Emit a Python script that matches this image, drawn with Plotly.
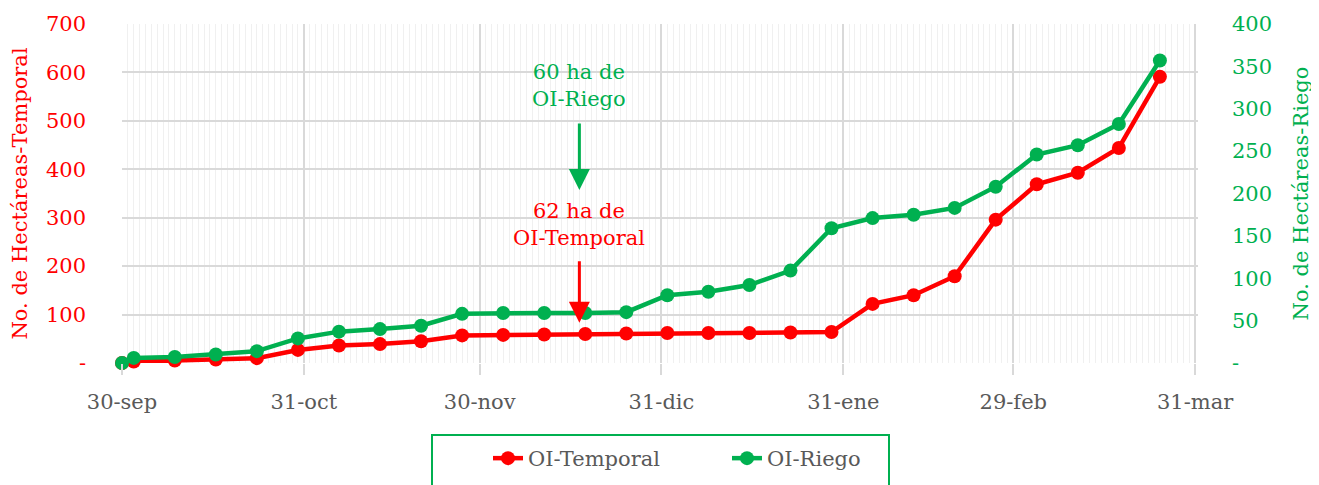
import plotly.graph_objects as go

# ---------------- data ----------------
dates = ["2023-09-30", "2023-10-02", "2023-10-09", "2023-10-16", "2023-10-23", "2023-10-30",
         "2023-11-06", "2023-11-13", "2023-11-20", "2023-11-27", "2023-12-04", "2023-12-11",
         "2023-12-18", "2023-12-25", "2024-01-01", "2024-01-08", "2024-01-15", "2024-01-22",
         "2024-01-29", "2024-02-05", "2024-02-12", "2024-02-19", "2024-02-26", "2024-03-04",
         "2024-03-11", "2024-03-18", "2024-03-25"]
oi_temporal = [0, 3, 5, 7, 10, 27, 36, 39, 45, 57, 58, 59, 60, 61, 62, 62, 62, 63, 64,
               122, 140, 179, 296, 369, 393, 444, 591]
oi_riego = [0, 6, 7, 10, 14, 29, 37, 40, 44, 58, 59, 59, 59, 60, 80, 84, 92, 109, 159,
            171, 175, 183, 208, 246, 257, 282, 357]

x_tickvals = ["2023-09-30", "2023-10-31", "2023-11-30", "2023-12-31", "2024-01-31", "2024-02-29", "2024-03-31"]
x_ticktext = ["30-sep", "31-oct", "30-nov", "31-dic", "31-ene", "29-feb", "31-mar"]
left_tickvals = [0, 100, 200, 300, 400, 500, 600, 700]
left_ticktext = ["-", "100", "200", "300", "400", "500", "600", "700"]
right_tickvals = [0, 50, 100, 150, 200, 250, 300, 350, 400]
right_ticktext = ["-", "50", "100", "150", "200", "250", "300", "350", "400"]

RED = "#FF0000"
GREEN = "#00B050"
GRAY = "#595959"
FONT = "DejaVu Serif"

# page has an 8px body margin: size the figure so it fits the 1319x485 window
OFF = 8
W, H = 1319 - OFF, 485 - OFF
PL, PR, PT, PB = 122, 1198, 24, 363          # plot area in window pixels
L, R, T, B = PL - OFF, W - (PR - OFF), PT - OFF, H - (PB - OFF)

fig = go.Figure()
fig.add_trace(go.Scatter(x=dates, y=oi_temporal, name="OI-Temporal", mode="lines+markers",
                         line=dict(color=RED, width=4.5), marker=dict(color=RED, size=14),
                         cliponaxis=False, yaxis="y"))
fig.add_trace(go.Scatter(x=dates, y=oi_riego, name="OI-Riego", mode="lines+markers",
                         line=dict(color=GREEN, width=4.5), marker=dict(color=GREEN, size=14),
                         cliponaxis=False, yaxis="y2"))

# annotations (text + arrows)
fig.add_annotation(x="2023-12-17", y=574, xref="x", yref="y", text="60 ha de<br>OI-Riego",
                   showarrow=False, font=dict(family=FONT, size=21, color=GREEN))
fig.add_annotation(x="2023-12-17", y=357, xref="x", yref="y", text="", showarrow=True,
                   ax=0, ay=-68, arrowcolor=GREEN, arrowwidth=3, arrowhead=2, arrowsize=1.4)
fig.add_annotation(x="2023-12-17", y=287, xref="x", yref="y", text="62 ha de<br>OI-Temporal",
                   showarrow=False, font=dict(family=FONT, size=21, color=RED))
fig.add_annotation(x="2023-12-17", y=83, xref="x", yref="y", text="", showarrow=True,
                   ax=0, ay=-63, arrowcolor=RED, arrowwidth=3, arrowhead=2, arrowsize=1.4)

plot_w = PR - PL
plot_h = PB - PT
def px_x(p):
    return (p - PL) / plot_w
def px_y(p):
    return (PB - p) / plot_h

# legend box
fig.add_shape(type="rect", xref="paper", yref="paper",
              x0=px_x(432), x1=px_x(889), y0=px_y(500), y1=px_y(435),
              line=dict(color=GREEN, width=2), fillcolor="rgba(0,0,0,0)", layer="above")

fig.update_layout(
    width=W, height=H,
    margin=dict(l=L, r=R, t=T, b=B, autoexpand=False),
    paper_bgcolor="white", plot_bgcolor="white",
    font=dict(family=FONT, size=21, color=GRAY),
    showlegend=True,
    legend=dict(orientation="h", x=px_x(488), xanchor="left", y=px_y(438), yanchor="top",
                font=dict(family=FONT, size=21, color=GRAY), bgcolor="rgba(0,0,0,0)",
                borderwidth=0, entrywidth=194, entrywidthmode="pixels"),
    xaxis=dict(
        type="date", range=["2023-09-30", "2024-03-31 12:00"], automargin=False,
        tickmode="array", tickvals=x_tickvals, ticktext=x_ticktext,
        showgrid=True, gridcolor="#D9D9D9", gridwidth=2,
        ticks="outside", ticklen=11, tickwidth=2, tickcolor="#D9D9D9",
        ticklabelstandoff=9,
        tickfont=dict(family=FONT, size=21, color=GRAY),
        showline=False, zeroline=False,
        minor=dict(tickmode="linear", tick0="2023-09-30", dtick=86400000,
                   showgrid=True, gridcolor="#F0F0F0", gridwidth=1, ticks=""),
    ),
    yaxis=dict(
        range=[0, 700], tickmode="array", tickvals=left_tickvals, ticktext=left_ticktext,
        automargin=False,
        showgrid=True, gridcolor="#D9D9D9", gridwidth=2, zeroline=False, showline=False,
        ticks="", ticklabelstandoff=35,
        tickfont=dict(family=FONT, size=21, color=RED),
        title=dict(text="No. de Hectáreas-Temporal", font=dict(family=FONT, size=21, color=RED), standoff=14),
    ),
    yaxis2=dict(
        range=[0, 400], overlaying="y", side="right", tickmode="array", automargin=False,
        tickvals=right_tickvals, ticktext=right_ticktext,
        showgrid=False, zeroline=False, showline=False, ticks="", ticklabelstandoff=33,
        tickfont=dict(family=FONT, size=21, color=GREEN),
        title=dict(text="No. de Hectáreas-Riego", font=dict(family=FONT, size=21, color=GREEN), standoff=22),
    ),
)

fig.write_html("out.html")
